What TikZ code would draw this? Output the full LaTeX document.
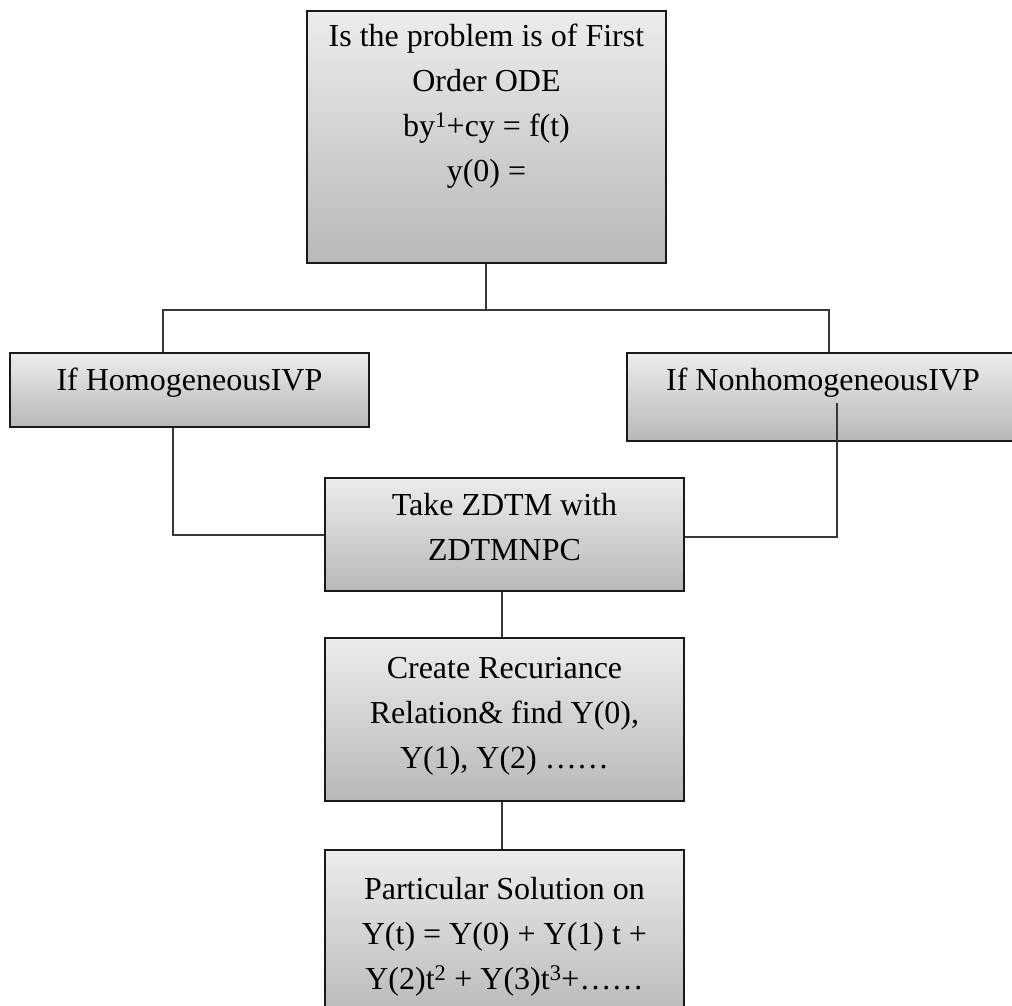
\documentclass[tikz,border=0pt]{standalone}
\usepackage{fontspec}
\setmainfont{Liberation Serif}
\usetikzlibrary{calc}
\definecolor{boxtop}{RGB}{236,236,236}
\definecolor{boxbot}{RGB}{184,184,184}
\definecolor{boxline}{RGB}{25,25,25}
\definecolor{wire}{RGB}{55,55,55}
\begin{document}
\begin{tikzpicture}[x=1pt,y=-1pt,
  box/.style={draw=boxline, line width=1.9pt, top color=boxtop, bottom color=boxbot,
              rectangle, inner sep=0pt, anchor=north west},
  label/.style={anchor=north, inner sep=0pt, align=center, text=black,
                font=\fontsize{32}{45}\selectfont},
  wire/.style={draw=wire, line width=2pt}]
\useasboundingbox[fill=white] (0,0) rectangle (1012,1006);

% boxes
\node[box, minimum width=359pt, minimum height=252pt] (ode) at (306,10) {};
\node[box, minimum width=359pt, minimum height=74pt] (hom) at (9,352) {};
\node[box, minimum width=392pt, minimum height=88pt] (nonhom) at (626,352) {};
\node[box, minimum width=359pt, minimum height=113pt] (zdtm) at (324,477) {};
\node[box, minimum width=359pt, minimum height=163pt] (rec) at (324,637) {};
\node[box, minimum width=359pt, minimum height=170pt] (sol) at (324,849) {};

% texts
\node[label] (odeT) at ($(ode.north)+(0,14)$)
  {Is the problem is of First\\Order ODE\\by\textsuperscript{1}+cy = f(t)\\y(0) =};
\node[label] (homT) at ($(hom.north)+(0,16)$) {If HomogeneousIVP};
\node[label] (nonhomT) at ($(nonhom.north west)+(197,16)$) {If NonhomogeneousIVP};
\node[label] (zdtmT) at ($(zdtm.north)+(0,16)$) {Take ZDTM with\\ZDTMNPC};
\node[label] (recT) at ($(rec.north)+(0,20)$)
  {Create Recuriance\\Relation\& find Y(0),\\Y(1), Y(2) ……};
\node[label] (solT) at ($(sol.north)+(0,28)$)
  {Particular Solution on\\Y(t) = Y(0) + Y(1) t +\\Y(2)t\textsuperscript{2} + Y(3)t\textsuperscript{3}+……};

% connectors
\coordinate (split) at ($(ode.south)+(0,46)$);
\coordinate (nonhomIn) at (837,403);
\draw[wire] (ode.south) -- (split);
\draw[wire] (hom.north west -| 163,0) |- (split) -| (nonhom.north west -| 829,0);
\draw[wire] (hom.south west -| 173,0) |- ($(zdtm.west)+(0,1)$);
\draw[wire] (nonhomIn) |- ($(zdtm.east)+(0,3)$);
\draw[wire] (zdtm.south -| 502,0) -- (rec.north -| 502,0);
\draw[wire] (rec.south -| 502,0) -- (sol.north -| 502,0);
\end{tikzpicture}
\end{document}
